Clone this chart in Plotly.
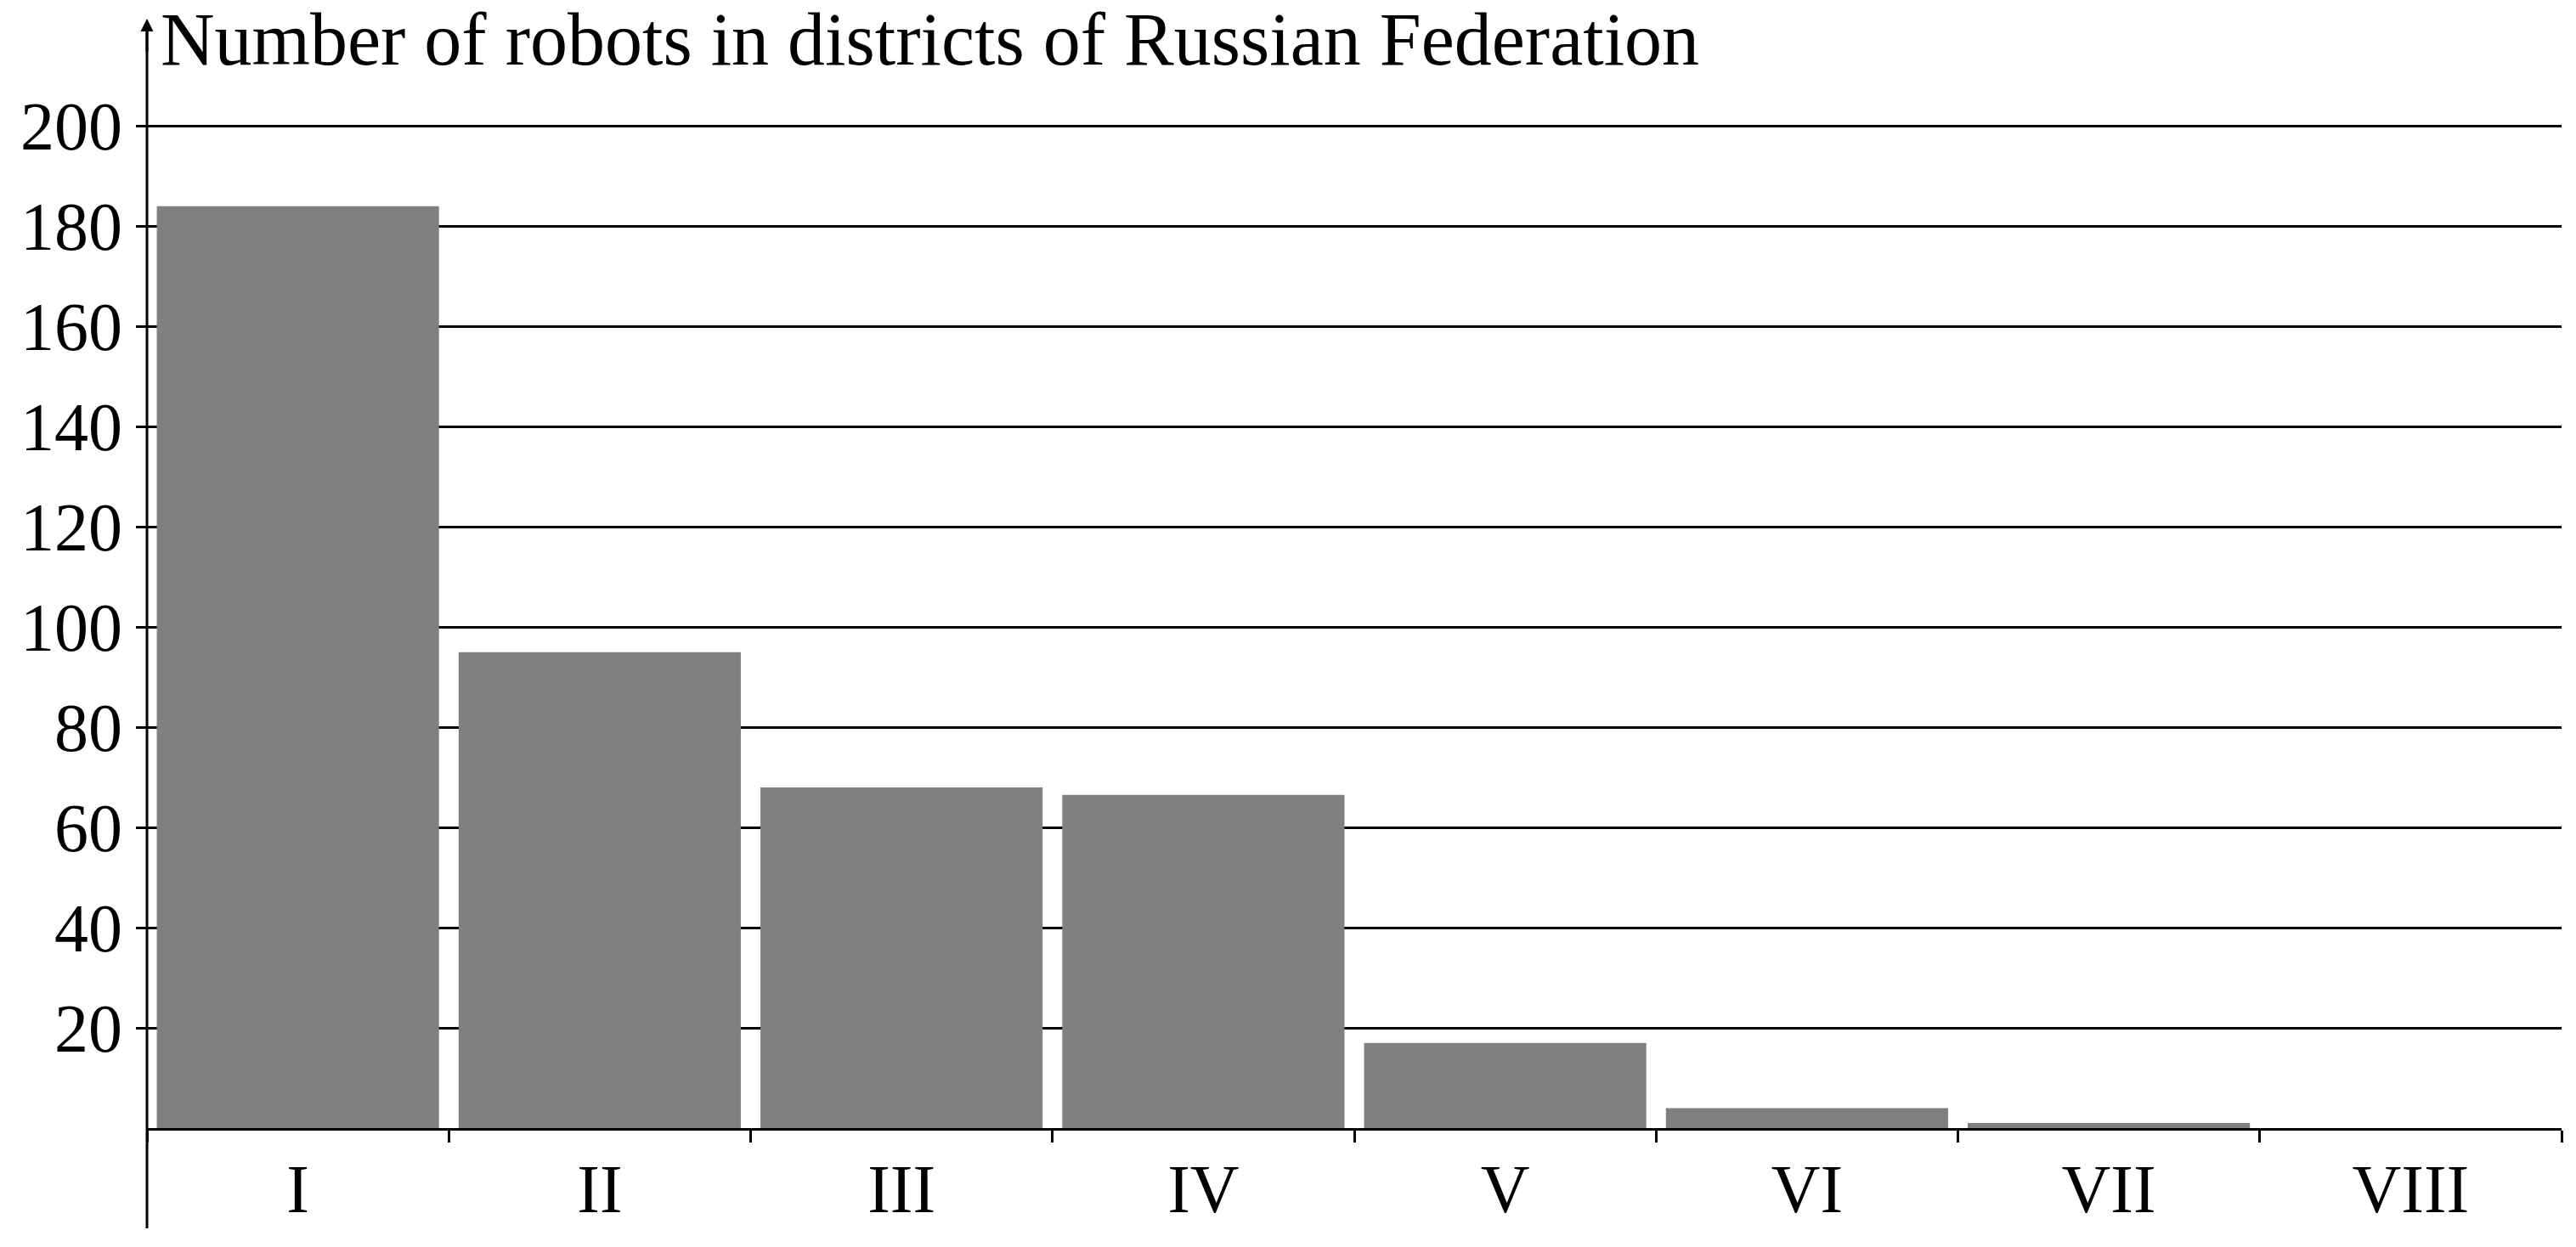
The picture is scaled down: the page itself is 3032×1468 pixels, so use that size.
import plotly.graph_objects as go

districts = ["I", "II", "III", "IV", "V", "VI", "VII", "VIII"]
robots = [184, 95, 68, 66.5, 17, 4, 1, 0]
y_ticks = [20, 40, 60, 80, 100, 120, 140, 160, 180, 200]

FONT = "Liberation Serif"
fig = go.Figure(go.Bar(x=districts, y=robots, marker=dict(color="#808080", line=dict(width=0)),
                       width=0.935))
fig.update_layout(
    width=3032, height=1468, paper_bgcolor="white", plot_bgcolor="white",
    margin=dict(l=165, r=25, t=52, b=148), showlegend=False,
    font=dict(family=FONT, size=80, color="black"),
)
fig.update_xaxes(type="category", range=[-0.5, 7.5], tickson="boundaries",
                 ticks="outside", ticklen=14, tickwidth=3, tickcolor="black",
                 showline=True, linecolor="black", linewidth=3, showgrid=False,
                 tickfont=dict(size=80, family=FONT))
fig.update_yaxes(range=[0, 215], tickvals=y_ticks, ticks="outside", ticklen=12,
                 tickwidth=3, tickcolor="black", showgrid=True, gridcolor="black",
                 gridwidth=3, zeroline=False, showline=False,
                 tickfont=dict(size=80, family=FONT))
fig.add_shape(type="line", xref="paper", yref="paper", x0=0, x1=0, y0=-0.093, y1=1.02,
              line=dict(color="black", width=3))
fig.add_annotation(xref="paper", yref="paper", x=0, y=1.03, ax=0, ay=40, showarrow=True,
                   arrowhead=2, arrowsize=1, arrowwidth=3, arrowcolor="black", text="")
fig.add_annotation(xref="paper", yref="paper", x=0.005, y=1.0, xanchor="left", yanchor="middle",
                   yshift=14, showarrow=False, text="Number of robots in districts of Russian Federation",
                   font=dict(size=88, family=FONT))
fig.write_html("out.html")
